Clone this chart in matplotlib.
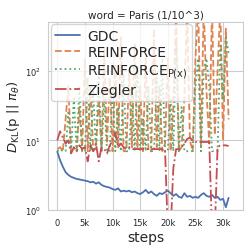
import numpy as np
import matplotlib
matplotlib.use('Agg')
import matplotlib.pyplot as plt
import seaborn as sns

sns.set_style('whitegrid')

steps = np.arange(0, 31001, 500)

gdc = [6.9, 5.2, 4.2, 3.5, 3.2, 3.0, 2.9, 2.8, 2.75, 2.7, 2.65, 2.6, 2.5, 2.55,
       2.4, 2.5, 2.3, 2.2, 2.15, 2.1, 2.0, 1.95, 2.05, 1.85, 1.9, 1.85, 1.9, 1.8,
       1.85, 1.75, 1.7, 1.8, 1.95, 1.75, 1.85, 1.7, 1.6, 1.75, 1.7, 1.8, 1.9, 1.75,
       1.6, 1.7, 1.55, 1.5, 1.75, 1.55, 1.6, 1.5, 1.55, 1.5, 1.65, 1.75, 1.6, 1.55,
       1.65, 1.5, 1.55, 1.4, 1.45, 1.1, 1.5]

reinforce = [7.5, 8, 7, 20, 60, 7, 7, 7, 30, 7, 150, 7, 60, 7, 8, 40, 7, 200, 9,
             80, 7, 120, 8, 300, 7, 7, 100, 8, 250, 7.5, 60, 7, 150, 7, 7, 400, 8,
             60, 7, 9, 150, 7, 30, 800, 7, 8, 40, 800, 10, 7, 150, 800, 8, 800, 50,
             9, 800, 12, 100, 800, 10, 400, 20]

reinforce_px = [7, 7.5, 7, 7, 25, 7, 40, 7, 60, 7, 7, 80, 7, 50, 7, 100, 7, 40, 7,
                7, 60, 7, 30, 7, 90, 7, 7, 50, 7, 120, 7, 20, 7, 60, 7, 7, 80, 7,
                150, 7, 7, 40, 7, 250, 7, 30, 7, 7, 7, 7, 60, 150, 7, 100, 150, 60,
                7, 7, 7, 230, 40, 300, 180]

ziegler = [10, 13.5, 11, 9, 10, 6.5, 8, 7, 8.5, 7.5, 8, 5, 8.5, 7, 9, 5, 8, 7.5,
           6.5, 8.5, 10, 13, 8, 9, 8, 7.5, 8, 7.5, 7.5, 7.5, 7.5, 7.5, 7.5, 7.5,
           7.5, 7.5, 7.5, 7.5, 7.5, 7.3, 0.5, 0.5, 4, 7.5, 7.5, 8, 9, 10.5, 11,
           9.8, 9.5, 9.5, 9.5, 9.5, 9.5, 9.5, 0.5, 0.5, 8, 8.5, 8.5, 8.5, 8.3]

pal = sns.color_palette('deep')

fig = plt.figure(figsize=(2.51, 2.51), dpi=100)
ax = fig.add_axes([0.193, 0.159, 0.775, 0.751])

ax.plot(steps, gdc, color=pal[0], lw=1.3, label='GDC')
ax.plot(steps, reinforce, color=pal[1], lw=1.3, ls='--', label='REINFORCE')
ax.plot(steps, reinforce_px, color=pal[2], lw=1.3, ls=':', label='REINFORCE$_{\\mathrm{P(x)}}$')
ax.plot(steps, ziegler, color=pal[3], lw=1.3, ls='-.', label='Ziegler')

ax.set_yscale('log')
ax.set_ylim(1, 507)
ax.set_xlim(-1600, 33600)
ax.set_xticks([0, 5000, 10000, 15000, 20000, 25000, 30000])
ax.set_xticklabels(['0', '5k', '10k', '15k', '20k', '25k', '30k'])
ax.tick_params(labelsize=6, pad=2)
ax.set_title('word = Paris (1/10^3)', fontsize=7.5, pad=3)
ax.set_xlabel('steps', fontsize=10, labelpad=2)
ax.set_ylabel('$D_{\\mathrm{KL}}(\\mathrm{p}\\ ||\\ \\pi_\\theta)$', fontsize=9.5, labelpad=2)
ax.legend(loc='upper left', fontsize=10, handlelength=1.8, borderpad=0.3,
          labelspacing=0.2, handletextpad=0.5, borderaxespad=0.2)

fig.savefig('out.png', dpi=100)
